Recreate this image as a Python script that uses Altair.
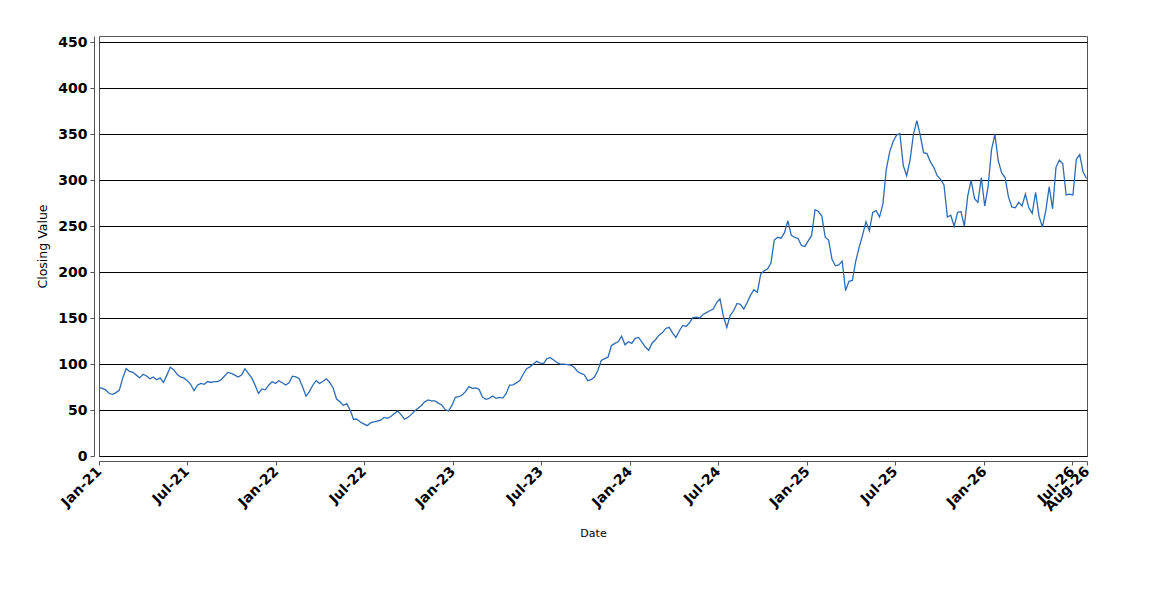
import altair as alt
import pandas as pd

# Weekly closing values (Jan 2021 - Aug 2026)
closing_values = [
    74.6, 73.5, 71.7, 68, 67, 69, 71.7, 85, 95, 92,
    91, 88, 85, 89, 87, 84, 86, 83, 85, 80,
    88, 96.5, 94, 89, 86, 85, 82, 78, 71, 77,
    79, 78, 81, 80, 81, 81, 83, 87, 91, 90,
    88, 86, 88, 95, 90, 85, 77, 68, 73, 72,
    77, 80.8, 79, 81.9, 79.7, 77.2, 79.7, 86.9, 86, 84,
    75, 65, 70, 77, 82, 79, 81, 84, 80, 74,
    62, 59, 55, 57, 50, 40, 40, 37, 35, 33,
    36, 37, 38, 39, 42, 41, 43, 46, 49, 45,
    40, 42, 45, 49, 52, 55, 59, 61, 60, 60,
    57.5, 55.5, 50.5, 49, 55, 63.8, 64.5, 66.3, 70, 75.4,
    73.5, 74, 72.5, 64, 61.6, 62.7, 65.2, 62.7, 63.8, 63,
    68, 77.2, 77.5, 79.5, 82, 89, 95, 97, 100, 103,
    101, 100.5, 106, 107, 104.5, 101.5, 100, 100, 99.5, 99,
    96.5, 92, 90, 88.5, 82, 83, 86, 93, 104, 106,
    107.5, 120, 122.5, 124.3, 130.4, 121, 124.3, 122.5, 128, 129,
    124, 118.5, 115, 123, 126.5, 131.5, 134, 138.8, 140, 134,
    129, 136, 142, 141, 145, 150.5, 151, 150, 154, 156,
    158, 160, 167, 171, 152, 140, 153, 158, 166, 165,
    160, 167, 175, 181, 178, 198, 201.5, 203.5, 210, 235,
    238, 237, 243, 256, 240, 238, 236.6, 229, 228, 234,
    240, 268, 266, 261, 238, 235, 214, 207, 208, 212,
    180, 190, 191, 212, 227, 240, 255, 245, 265, 267,
    260, 274, 312, 331, 342, 349, 351, 316, 305, 322,
    350, 365, 349, 330, 329, 320, 314, 305, 301, 295,
    260, 262, 250, 265, 266, 250, 283, 300, 280, 276,
    303, 272, 293, 333, 350, 321, 308, 303, 282, 271,
    270, 276, 272, 285, 270, 264, 287, 261, 249, 267,
    293, 269, 314, 322, 318, 284, 285, 284, 323, 328,
    309, 302,
]
start_date = "2021-01-01"
dates = list(pd.date_range(start_date, periods=len(closing_values), freq="7D").strftime("%Y-%m-%d"))

tick_months = [(2021, 1), (2021, 7), (2022, 1), (2022, 7), (2023, 1), (2023, 7),
               (2024, 1), (2024, 7), (2025, 1), (2025, 7), (2026, 1), (2026, 7), (2026, 8)]
y_ticks = [0, 50, 100, 150, 200, 250, 300, 350, 400, 450]

df = pd.DataFrame({"date": dates, "value": closing_values})

tick_vals = [alt.DateTime(year=y, month=m, date=1, utc=True) for y, m in tick_months]

chart = alt.Chart(df).mark_line(color="#2d6bb5", strokeWidth=1.3).encode(
    x=alt.X(
        "date:T",
        title="Date",
        scale=alt.Scale(
            type="utc",
            domain=[alt.DateTime(year=2021, month=1, date=1, utc=True),
                    alt.DateTime(year=2026, month=8, date=1, utc=True)],
        ),
        axis=alt.Axis(
            values=tick_vals, format="%b-%y", labelAngle=-45, labelAlign="right",
            labelBaseline="middle", grid=False, offset=5, tickSize=4,
            labelFontSize=14, labelFontWeight="bold", labelColor="black",
            labelPadding=4, labelOverlap=False, titleFontSize=11,
            titleFontWeight="normal", titlePadding=14, domainColor="#555",
            tickColor="#555",
        ),
    ),
    y=alt.Y(
        "value:Q",
        title="Closing Value",
        scale=alt.Scale(domain=[0, 457], nice=False, zero=True),
        axis=alt.Axis(
            values=y_ticks, grid=True, gridColor="black", gridWidth=1, gridOpacity=1,
            offset=5, tickSize=4, labelFontSize=14, labelFontWeight="bold",
            labelColor="black", labelPadding=3, titleFontSize=12.5,
            titleFontWeight="normal", titlePadding=8, domainColor="#555",
            tickColor="#555",
        ),
    ),
).properties(
    width=988, height=420, autosize="none",
    padding={"left": 91, "top": 28, "right": 40, "bottom": 120},
).configure(font="DejaVu Sans").configure_view(stroke="#555", strokeWidth=1)

chart.save("out.html", embed_options={"renderer": "svg", "actions": False})
